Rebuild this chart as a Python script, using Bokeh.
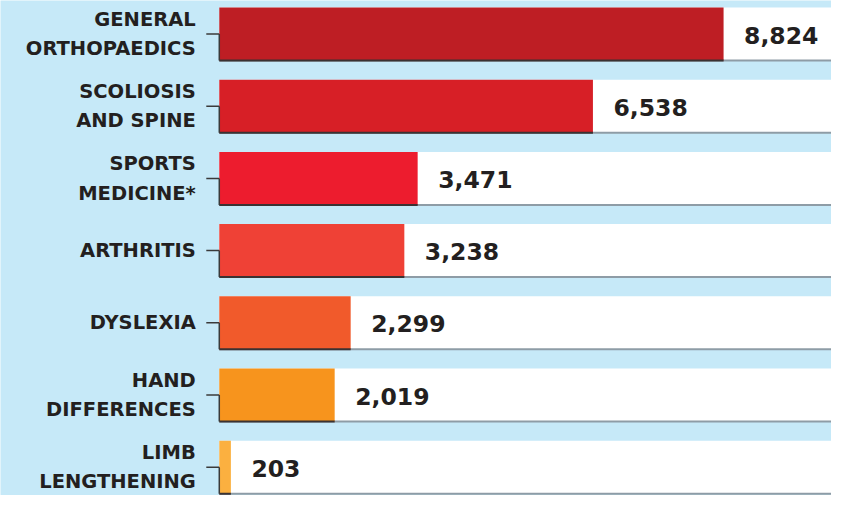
from bokeh.plotting import figure
from bokeh.models import Range1d, ColumnDataSource
from bokeh.core.properties import value
from bokeh.embed import file_html
from bokeh.resources import INLINE

categories = ["GENERAL\nORTHOPAEDICS", "SCOLIOSIS\nAND SPINE", "SPORTS\nMEDICINE*",
              "ARTHRITIS", "DYSLEXIA", "HAND\nDIFFERENCES", "LIMB\nLENGTHENING"]
counts = [8824, 6538, 3471, 3238, 2299, 2019, 203]
colors = ["#be1e24", "#d71f26", "#ed1c2e", "#ef4136", "#f15a2b", "#f7941d", "#fbb040"]

BG = "#c6e9f8"
W, H = 831, 495
SX = 831 / 847
ROW = 72.2               # px per row
BAR = 53.0               # px bar height
PX_PER_UNIT = 0.05825 * SX
ZERO_PX = 223 * SX       # x of zero inside the figure
FIRST_CENTER = 33.5

n = len(categories)
ypos = list(range(n))
x_start = -ZERO_PX / PX_PER_UNIT
x_end = (W - ZERO_PX) / PX_PER_UNIT
y_top = -FIRST_CENTER / ROW
y_bot = y_top + H / ROW
bh = BAR / ROW

src = ColumnDataSource(dict(
    y=ypos, v=counts, c=colors, lab=categories,
    txt=[f"{v:,}" for v in counts],
    zero=[0] * n, full=[x_end] * n,
    ybottom=[y + bh / 2 for y in ypos],
))

p = figure(width=W, height=H, output_backend="svg", toolbar_location=None,
           x_range=Range1d(x_start, x_end), y_range=Range1d(y_bot, y_top),
           min_border=0, min_border_left=0, min_border_right=0,
           min_border_top=0, min_border_bottom=0)
p.background_fill_color = BG
p.border_fill_color = BG
p.outline_line_color = None
p.axis.visible = False
p.grid.visible = False

# white band
p.hbar(y="y", left="zero", right="full", height=bh, source=src,
       fill_color="white", line_color=None)
# grey bottom edge of band
p.segment(x0="zero", y0="ybottom", x1="full", y1="ybottom", source=src,
          line_color="#8e9ca6", line_width=2)
# coloured bars
p.hbar(y="y", left="zero", right="v", height=bh, source=src,
       fill_color="c", line_color=None)
p.segment(x0="zero", y0="ybottom", x1="v", y1="ybottom", source=src,
          line_color="#3a3233", line_width=2)
# bracket: tick and vertical
p.ray(x="zero", y="y", length=13, length_units="screen", angle=3.14159265,
      source=src, line_color="#3a3a3a", line_width=1.5)
p.segment(x0="zero", y0="y", x1="zero", y1="ybottom", source=src,
          line_color="#3a3a3a", line_width=1.5)

# category labels
p.text(x="zero", y="y", text="lab", source=src, x_offset=-23.5,
       text_align="right", text_baseline="middle",
       text_font=value("DejaVu Sans"), text_font_style="bold",
       text_font_size="19.5px", text_color="#231f20", text_line_height=1.28)
# values
p.text(x="v", y="y", text="txt", source=src, x_offset=20.5, y_offset=1,
       text_align="left", text_baseline="middle",
       text_font=value("DejaVu Sans"), text_font_style="bold",
       text_font_size="23.5px", text_color="#231f20")

open("out.html", "w").write(file_html(p, INLINE))
